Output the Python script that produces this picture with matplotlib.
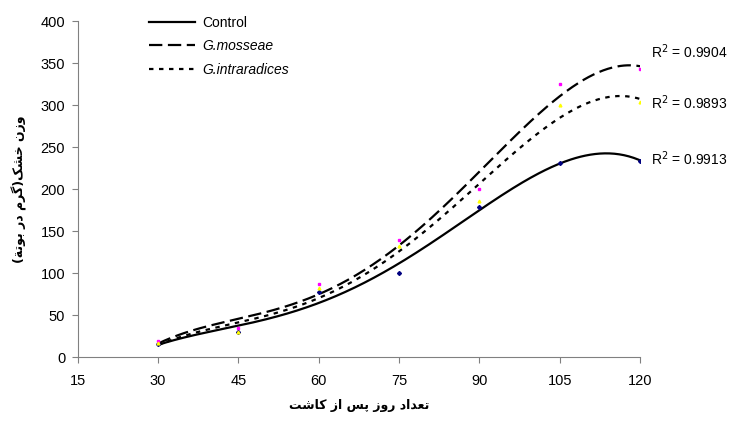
import numpy as np
import matplotlib
matplotlib.use("Agg")
from matplotlib import pyplot as plt
from matplotlib.lines import Line2D

plt.rcParams['font.family'] = ['Liberation Sans', 'DejaVu Sans']

days = [30, 45, 60, 75, 90, 105, 120]
control = [16, 30, 78, 100, 179, 231, 234]
mosseae = [19, 34, 87, 139, 200, 326, 343]
intra = [17, 30, 82, 132, 186, 300, 304]
r2_labels = ["R$^2$ = 0.9913", "R$^2$ = 0.9904", "R$^2$ = 0.9893"]
series_names = ["Control", "G.mosseae", "G.intraradices"]
xlabel_text = "تعداد روز پس از کاشت"
ylabel_text = "وزن خشک(گرم در بوتة)"

# minimal arabic shaping: (isolated, final, initial, medial)
FORMS = {
    'ا': ('\uFE8D', '\uFE8E'), 'ب': ('\uFE8F', '\uFE90', '\uFE91', '\uFE92'),
    'ت': ('\uFE95', '\uFE96', '\uFE97', '\uFE98'), 'ة': ('\uFE93', '\uFE94'),
    'خ': ('\uFEA5', '\uFEA6', '\uFEA7', '\uFEA8'), 'د': ('\uFEA9', '\uFEAA'),
    'ر': ('\uFEAD', '\uFEAE'), 'ز': ('\uFEAF', '\uFEB0'),
    'س': ('\uFEB1', '\uFEB2', '\uFEB3', '\uFEB4'), 'ش': ('\uFEB5', '\uFEB6', '\uFEB7', '\uFEB8'),
    'ع': ('\uFEC9', '\uFECA', '\uFECB', '\uFECC'), 'م': ('\uFEE1', '\uFEE2', '\uFEE3', '\uFEE4'),
    'ن': ('\uFEE5', '\uFEE6', '\uFEE7', '\uFEE8'), 'ه': ('\uFEE9', '\uFEEA', '\uFEEB', '\uFEEC'),
    'و': ('\uFEED', '\uFEEE'), 'پ': ('\uFB56', '\uFB57', '\uFB58', '\uFB59'),
    'ک': ('\uFB8E', '\uFB8F', '\uFB90', '\uFB91'), 'گ': ('\uFB92', '\uFB93', '\uFB94', '\uFB95'),
}


def shape(text):
    out = []
    for i, c in enumerate(text):
        if c not in FORMS:
            out.append(c)
            continue
        prev = text[i - 1] if i > 0 else ''
        nxt = text[i + 1] if i + 1 < len(text) else ''
        jp = prev in FORMS and len(FORMS[prev]) == 4
        jn = len(FORMS[c]) == 4 and nxt in FORMS
        f = FORMS[c]
        if jp and jn:
            out.append(f[3])
        elif jp:
            out.append(f[1])
        elif jn:
            out.append(f[2])
        else:
            out.append(f[0])
    vis = ''.join(reversed(out))
    return vis.translate(str.maketrans('()', ')('))


fig = plt.figure(figsize=(7.47, 4.21), dpi=100)
ax = fig.add_axes([0.104, 0.152, 0.753, 0.797])

xs = np.linspace(30, 120, 300)
styles = [dict(ls='-'), dict(ls=(0, (6, 2.5))), dict(ls=(0, (2, 2.5)))]
markers = [('D', '#000080'), ('s', '#FF00FF'), ('^', '#FFFF00')]
handles = []
for vals, st, (mk, col), name in zip([control, mosseae, intra], styles, markers, series_names):
    ax.plot(days, vals, ls='none', marker=mk, color=col, markersize=2, zorder=3)
    # 4th order polynomial trend line
    coef = np.polyfit(days, vals, 4)
    ax.plot(xs, np.polyval(coef, xs), color='black', lw=1.6, zorder=2, **st)
    handles.append(Line2D([], [], color='black', lw=1.6, **st))

for lab, y in zip(r2_labels, [237, 364, 303]):
    ax.text(122.0, y, lab, fontsize=10, va='center', ha='left', clip_on=False)

ax.set_xlim(15, 120)
ax.set_ylim(0, 400)
ax.set_xticks(range(15, 121, 15))
ax.set_yticks(range(0, 401, 50))
for s in ['top', 'right']:
    ax.spines[s].set_visible(False)
for s in ['left', 'bottom']:
    ax.spines[s].set_color('#808080')
ax.tick_params(colors='#808080', labelcolor='black', labelsize=10.5, length=4)
ax.tick_params(axis='x', pad=8)
ax.tick_params(axis='y', pad=5)

leg = ax.legend(handles, series_names, loc='upper left', bbox_to_anchor=(0.105, 1.055),
                frameon=False, fontsize=10, handlelength=3.3, handletextpad=0.5,
                labelspacing=0.7)
for t in leg.get_texts()[1:]:
    t.set_fontstyle('italic')

ax.set_xlabel(shape(xlabel_text), family=['DejaVu Sans'], fontweight='bold', fontsize=9, labelpad=8)
ax.set_ylabel(shape(ylabel_text), family=['DejaVu Sans'], fontweight='bold', fontsize=9, labelpad=10)

fig.savefig("out.png", dpi=100)
